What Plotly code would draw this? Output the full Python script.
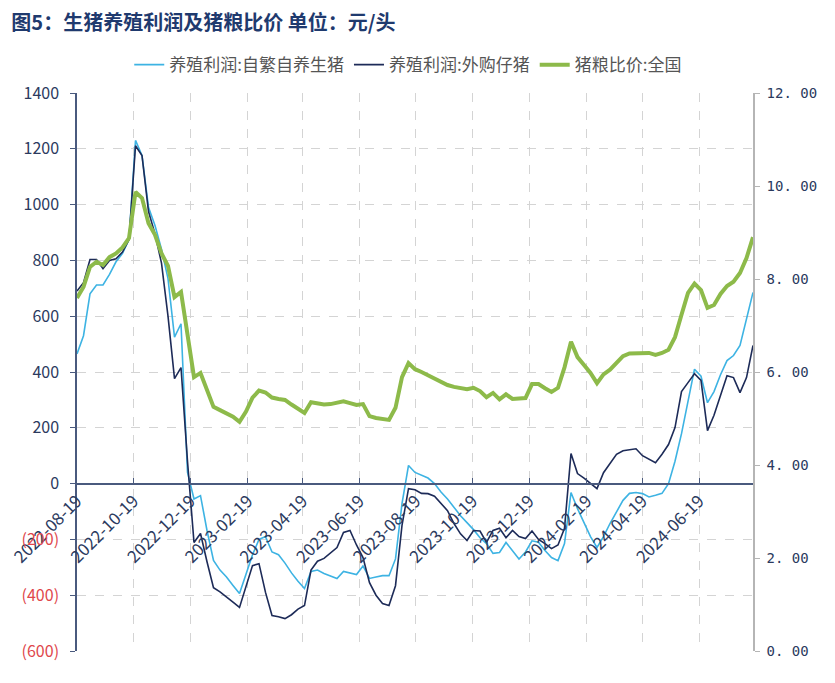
import plotly.graph_objects as go
import pandas as pd

dates = pd.date_range("2022-08-19", periods=105, freq="7D").strftime("%Y-%m-%d").tolist()

profit_self = [465, 530, 680, 712, 712, 750, 795, 825, 875, 1230,
               1176, 990, 925, 840, 735, 525, 573, 40, -55, -43,
               -168, -275, -310, -335, -365, -394, -325, -255, -200, -190,
               -245, -255, -285, -320, -350, -376, -315, -310, -322, -330,
               -340, -315, -320, -326, -295, -340, -335, -330, -330, -270,
               -72, 65, 40, 30, 20, 0, -30, -55, -85, -115,
               -140, -165, -194, -215, -250, -247, -211, -240, -270, -245,
               -205, -210, -240, -265, -276, -215, -32, -90, -140, -190,
               -229, -190, -143, -100, -60, -35, -32, -36, -48, -42,
               -35, 0, 80, 179, 297, 410, 385, 290, 330, 390,
               441, 459, 495, 590, 685]

profit_buy = [690, 720, 803, 803, 770, 800, 806, 830, 875, 1211,
              1176, 975, 895, 790, 600, 376, 416, 80, -211, -179,
              -280, -373, -388, -405, -425, -444, -370, -294, -287, -390,
              -473, -477, -484, -470, -450, -437, -310, -278, -268, -250,
              -229, -175, -168, -220, -265, -355, -400, -430, -437, -366,
              -150, -18, -22, -35, -36, -45, -70, -97, -143, -180,
              -204, -168, -170, -211, -168, -160, -194, -168, -190, -197,
              -170, -200, -215, -233, -220, -160, 108, 36, 20, 0,
              -18, 39, 70, 105, 118, 122, 125, 100, 88, 75,
              105, 140, 201, 330, 362, 394, 370, 190, 245, 320,
              387, 380, 326, 380, 495]

hog_grain = [7.59, 7.83, 8.26, 8.37, 8.30, 8.47, 8.55, 8.68, 8.88, 9.87,
             9.74, 9.20, 8.95, 8.55, 8.28, 7.61, 7.72, 6.85, 5.89, 5.98,
             5.60, 5.25, 5.18, 5.12, 5.04, 4.93, 5.15, 5.45, 5.60, 5.56,
             5.45, 5.42, 5.40, 5.30, 5.22, 5.12, 5.35, 5.33, 5.30, 5.31,
             5.33, 5.37, 5.33, 5.29, 5.31, 5.05, 5.01, 4.99, 4.97, 5.23,
             5.89, 6.19, 6.06, 6.00, 5.93, 5.85, 5.78, 5.72, 5.68, 5.65,
             5.63, 5.66, 5.59, 5.46, 5.55, 5.41, 5.52, 5.42, 5.42, 5.44,
             5.74, 5.74, 5.65, 5.57, 5.66, 6.10, 6.65, 6.32, 6.15, 5.98,
             5.76, 5.95, 6.05, 6.19, 6.34, 6.40, 6.41, 6.41, 6.41, 6.37,
             6.41, 6.48, 6.75, 7.23, 7.70, 7.90, 7.76, 7.38, 7.44, 7.68,
             7.85, 7.94, 8.13, 8.45, 8.90]

x_ticks = ["2022-08-19", "2022-10-19", "2022-12-19", "2023-02-19", "2023-04-19",
           "2023-06-19", "2023-08-19", "2023-10-19", "2023-12-19", "2024-02-19",
           "2024-04-19", "2024-06-19"]

left_vals = [1400, 1200, 1000, 800, 600, 400, 200, 0, -200, -400, -600]
left_text = ["1400", "1200", "1000", "800", "600", "400", "200", "0",
             "<span style='color:#e0474c'>(200)</span>",
             "<span style='color:#e0474c'>(400)</span>",
             "<span style='color:#e0474c'>(600)</span>"]
right_vals = [0, 2, 4, 6, 8, 10, 12]
right_text = ["0. 00", "2. 00", "4. 00", "6. 00", "8. 00", "10. 00", "12. 00"]

names = ["养殖利润:自繁自养生猪", "养殖利润:外购仔猪", "猪粮比价:全国"]

FONT = "Noto Sans CJK SC"
NAVY = "#2b3a5e"

fig = go.Figure()
fig.add_trace(go.Scatter(x=dates, y=profit_self, name=names[0], mode="lines",
                         line=dict(color="#3db3e3", width=1.6)))
fig.add_trace(go.Scatter(x=dates, y=profit_buy, name=names[1], mode="lines",
                         line=dict(color="#1d2b58", width=1.6)))
fig.add_trace(go.Scatter(x=dates, y=hog_grain, name=names[2], mode="lines",
                         line=dict(color="#8dba4a", width=4), yaxis="y2"))

fig.update_layout(
    width=835, height=683,
    margin=dict(l=69, r=90, t=85, b=40),
    paper_bgcolor="white", plot_bgcolor="white",
    font=dict(family=FONT, color=NAVY, size=13),
    title=dict(text="<b>图5：生猪养殖利润及猪粮比价 单位：元/头</b>",
               x=0.004, xanchor="left", y=0.978, yanchor="middle",
               font=dict(size=20, color="#1f3a6e", family=FONT)),
    legend=dict(orientation="h", x=0.49, xanchor="center",
                y=1.05, yanchor="middle",
                font=dict(size=17, color="#555555", family=FONT),
                bgcolor="rgba(0,0,0,0)"),
    showlegend=True,
    xaxis=dict(type="date", range=["2022-08-19", "2024-08-16"],
               tickvals=x_ticks, ticktext=x_ticks, tickangle=-45,
               tickfont=dict(size=17, color=NAVY), ticklabeloverflow="allow",
               automargin=False,
               showgrid=True, gridcolor="#d4d4d4", griddash="dash", gridwidth=1,
               showline=True, linecolor="#4a5a7e", linewidth=1.5,
               ticks="inside", ticklen=5, tickcolor="#4a5a7e",
               anchor="free", position=0.3, zeroline=False),
    yaxis=dict(range=[-600, 1400], tickvals=left_vals, ticktext=left_text,
               tickfont=dict(size=16, color=NAVY), ticklabelstandoff=8,
               automargin=False,
               showgrid=True, gridcolor="#d4d4d4", griddash="dash", gridwidth=1,
               showline=True, linecolor="#4a5a7e", linewidth=1.5,
               ticks="outside", ticklen=5, tickcolor="#4a5a7e",
               zeroline=False),
    yaxis2=dict(range=[0, 12], tickvals=right_vals, ticktext=right_text,
                overlaying="y", side="right", showgrid=False,
                tickfont=dict(size=14, color=NAVY, family="DejaVu Sans Mono"),
                ticklabelstandoff=4, automargin=False,
                showline=True, linecolor="#b5b5b5", linewidth=1.5,
                ticks="outside", ticklen=5, tickcolor="#b5b5b5",
                zeroline=False),
)

fig.write_html("out.html")
